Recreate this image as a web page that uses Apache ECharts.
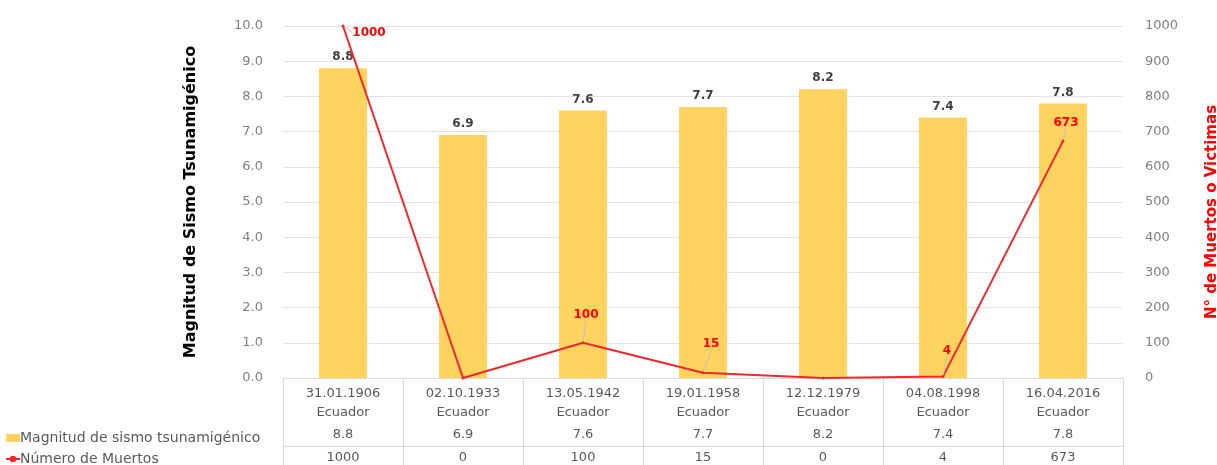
<!DOCTYPE html>
<html>
<head>
<meta charset="utf-8">
<script src="https://cdn.jsdelivr.net/npm/echarts@6/dist/echarts.min.js"></script>
<style>
  html, body { margin: 0; padding: 0; background: #fff; }
  #chart { width: 1217px; height: 465px; }
</style>
</head>
<body>
<div id="chart"></div>
<script>
// Tsunamigenic earthquakes in Ecuador: magnitude (bars) and death toll (line)
const eventDates = ['31.01.1906', '02.10.1933', '13.05.1942', '19.01.1958', '12.12.1979', '04.08.1998', '16.04.2016'];
const eventPlace = 'Ecuador';
const magnitudes = [8.8, 6.9, 7.6, 7.7, 8.2, 7.4, 7.8];
const deaths = [1000, 0, 100, 15, 0, 4, 673];

const magName = 'Magnitud de sismo tsunamigénico';
const deathName = 'Número de Muertos';

const categories = eventDates.map(d => d + '\n' + eventPlace);
const gray = '#595959';
const tickGray = '#7f7f7f';
const tableLine = '#d9d9d9';
const font = '"DejaVu Sans", sans-serif';

const chart = echarts.init(document.getElementById('chart'));

chart.setOption({
  backgroundColor: '#ffffff',
  animation: false,
  grid: { left: 283, right: 94, top: 26, bottom: 87, outerBoundsMode: 'none', containLabel: false },
  legend: {
    orient: 'vertical',
    left: 0,
    top: 426,
    height: 60,
    itemGap: 7,
    itemWidth: 14,
    itemHeight: 8,
    textStyle: { color: gray, fontSize: 14, fontFamily: font, padding: [0, 0, 0, -5] },
    data: [{ name: magName, icon: 'rect' }, { name: deathName }]
  },
  xAxis: [
    {
      type: 'category',
      data: categories,
      position: 'bottom',
      axisLine: { show: true, lineStyle: { color: tableLine } },
      axisTick: { show: true, length: 87, lineStyle: { color: tableLine } },
      axisLabel: { color: gray, fontSize: 13, fontFamily: font, lineHeight: 19, margin: 6 }
    },
    {
      type: 'category',
      data: magnitudes.map(v => v.toFixed(1)),
      position: 'bottom',
      offset: 44,
      axisLine: { show: true, lineStyle: { color: tableLine } },
      axisTick: { show: false },
      axisLabel: { color: gray, fontSize: 13, fontFamily: font, margin: 6 }
    },
    {
      type: 'category',
      data: deaths.map(v => String(v)),
      position: 'bottom',
      offset: 68,
      axisLine: { show: true, lineStyle: { color: tableLine } },
      axisTick: { show: false },
      axisLabel: { color: gray, fontSize: 13, fontFamily: font, margin: 5 }
    }
  ],
  yAxis: [
    {
      type: 'value',
      min: 0,
      max: 10,
      interval: 1,
      name: 'Magnitud de Sismo Tsunamigénico',
      nameLocation: 'middle',
      nameGap: 84,
      nameTextStyle: { color: '#000', fontWeight: 'bold', fontSize: 16, fontFamily: font },
      axisLine: { show: false },
      axisTick: { show: false },
      axisLabel: { color: tickGray, fontSize: 13, fontFamily: font, margin: 20, formatter: v => v.toFixed(1) },
      splitLine: { lineStyle: { color: '#e3e3e3' } }
    },
    {
      type: 'value',
      min: 0,
      max: 1000,
      interval: 100,
      name: 'N° de Muertos o Victimas',
      nameLocation: 'middle',
      nameGap: 82,
      nameRotate: 90,
      nameTextStyle: { color: '#ff0000', fontWeight: 'bold', fontSize: 15, fontFamily: font, padding: [0, 20, 0, 0] },
      axisLine: { show: false },
      axisTick: { show: false },
      axisLabel: { color: tickGray, fontSize: 13, fontFamily: font, margin: 22, formatter: v => String(v) },
      splitLine: { show: false }
    }
  ],
  series: [
    {
      name: magName,
      type: 'bar',
      xAxisIndex: 0,
      yAxisIndex: 0,
      data: magnitudes,
      barWidth: 48,
      itemStyle: { color: '#FFD35F' },
      label: {
        show: true,
        position: 'top',
        distance: 5,
        color: '#404040',
        fontWeight: 'bold',
        fontSize: 12,
        fontFamily: font,
        formatter: p => p.value.toFixed(1)
      }
    },
    {
      name: deathName,
      type: 'line',
      xAxisIndex: 0,
      yAxisIndex: 1,
      data: deaths.map(v => ({ value: v, label: { show: v > 0 } })),
      symbol: 'circle',
      symbolSize: 3,
      showSymbol: true,
      itemStyle: { color: '#f0282d' },
      lineStyle: { color: '#f0282d', width: 2 },
      z: 5,
      label: {
        position: 'top',
        distance: 6,
        color: '#ff0000',
        fontWeight: 'bold',
        fontSize: 12,
        fontFamily: font
      },
      labelLine: { show: true, lineStyle: { color: '#bfbfbf', width: 1 } },
      labelLayout: function (p) {
        const v = deaths[p.dataIndex];
        if (v >= 1000) return { dx: 26, dy: 20 };
        if (v >= 600) return { dx: 3, dy: -5 };
        if (v >= 100) return { dx: 3, dy: -14 };
        if (v >= 10) return { dx: 8, dy: -15 };
        return { dx: 4, dy: -12 };
      }
    }
  ]
});
</script>
</body>
</html>
